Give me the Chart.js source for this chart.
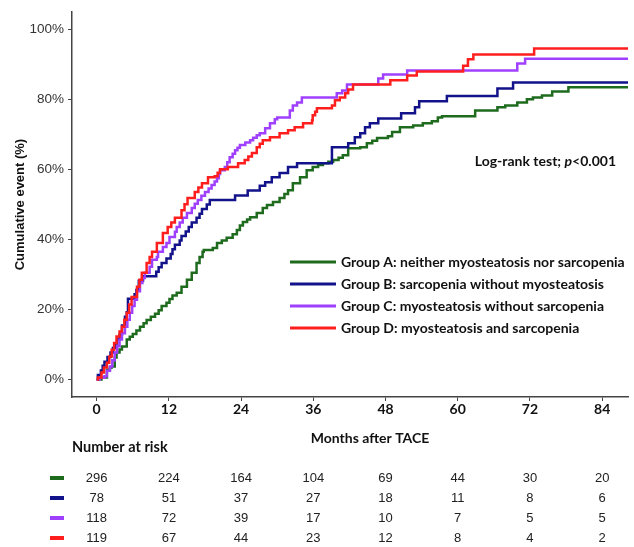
<!DOCTYPE html>
<html>
<head>
<meta charset="utf-8">
<script src="https://cdn.jsdelivr.net/npm/chart.js@4.4.0/dist/chart.umd.min.js"></script>
<style>
  html, body { margin: 0; padding: 0; background: #fff; }
  canvas { display: block; }
</style>
</head>
<body>
<canvas id="km" width="634" height="547"></canvas>
<script>
// [months, cumulative event %]
const GROUP_A = [[0,0],[0.8,0.6],[1.7,2.8],[2.2,3.4],[2.5,3.7],[3.0,6.3],[3.3,7.7],[3.8,8.6],[4.2,9.4],[5.0,11.4],
  [5.5,12.2],[6.0,13.0],[6.6,14.0],[7.2,15.1],[7.8,16.1],[8.3,17.0],[9.0,17.9],[9.7,18.8],[10.3,19.8],[10.8,21.0],
  [11.6,21.9],[12.1,23.0],[12.6,24.0],[13.3,24.8],[14.1,26.5],[15.0,28.5],[15.8,30.5],[16.6,33.3],[17.1,35.0],[17.6,36.5],
  [17.8,37.0],[19.3,37.6],[20.0,39.0],[20.8,39.7],[21.6,40.5],[22.6,41.5],[23.3,42.7],[23.8,44.0],[24.3,45.0],[25.0,45.7],
  [25.5,46.4],[26.6,47.6],[27.6,49.0],[28.3,49.9],[29.3,50.7],[30.4,51.9],[31.2,53.0],[31.8,54.1],[32.6,56.1],[33.8,57.8],
  [34.9,59.8],[35.9,60.7],[36.8,61.3],[37.6,61.8],[38.5,62.2],[39.3,62.7],[40.2,63.4],[40.9,64.1],[41.8,66.1],[43.8,66.4],
  [44.9,67.5],[45.8,68.2],[46.6,69.0],[48.4,69.5],[49.1,70.7],[50.4,72.1],[52.6,72.6],[54.2,73.2],[55.7,73.8],[56.7,74.9],
  [57.4,75.2],[62.9,76.9],[66.6,77.8],[67.9,78.3],[69.9,79.2],[71.5,80.1],[72.5,80.6],[74.0,81.2],[75.7,82.3],[78.4,83.5],
  [88.3,83.5]];
const GROUP_B = [[0,0],[0.2,1.3],[0.7,2.6],[1.0,3.9],[1.3,5.1],[1.8,6.4],[2.3,7.7],[2.7,9.0],[3.0,10.3],[3.4,11.5],
  [3.8,12.8],[4.2,15.4],[4.7,17.9],[5.0,19.2],[5.2,23.1],[6.3,24.4],[6.6,25.6],[7.0,28.2],[7.7,29.5],[9.9,30.8],
  [10.3,32.1],[10.8,33.3],[11.6,34.6],[12.3,35.9],[12.6,37.2],[13.0,38.5],[13.8,39.7],[14.1,41.0],[14.8,42.3],[15.3,43.6],
  [15.8,44.9],[16.6,46.2],[17.1,47.4],[17.5,48.7],[18.3,50.0],[18.8,51.3],[23.0,52.6],[25.1,54.0],[27.1,55.4],[28.0,56.4],
  [29.1,57.8],[30.4,59.0],[31.8,60.7],[33.3,61.8],[39.1,66.4],[41.8,67.5],[42.9,69.2],[43.8,70.4],[44.6,72.1],[45.4,73.2],
  [46.8,74.6],[50.6,76.1],[52.9,77.8],[53.6,79.5],[58.2,81.0],[66.6,83.2],[69.2,84.9],[88.3,84.9]];
const GROUP_C = [[0,0],[0.5,0.5],[1.3,0.9],[1.7,2.5],[2.2,3.7],[2.6,5.5],[3.0,7.7],[3.4,9.5],[3.8,11.4],[4.2,13.2],
  [4.7,15.1],[5.1,17.1],[5.5,19.1],[5.9,21.0],[6.3,22.8],[6.7,25.2],[7.2,27.6],[7.6,29.0],[8.0,30.5],[8.8,32.2],
  [9.2,34.2],[10.0,35.0],[10.2,36.5],[11.0,37.9],[11.6,39.0],[12.1,40.7],[13.0,42.2],[13.3,43.6],[13.8,44.9],[14.3,46.2],
  [15.0,47.6],[15.8,49.0],[16.3,50.2],[16.8,51.3],[17.4,52.5],[18.0,53.6],[18.6,54.6],[19.1,55.6],[19.6,56.6],[20.0,57.5],
  [20.3,58.7],[20.5,59.8],[21.3,60.7],[21.7,62.1],[22.1,63.5],[22.6,64.5],[23.0,65.5],[23.4,66.2],[23.8,67.0],[24.7,67.7],
  [25.5,68.4],[26.0,69.1],[26.6,69.8],[27.1,70.4],[28.0,71.8],[28.8,73.2],[29.6,74.4],[30.0,74.9],[32.1,76.9],[32.6,78.3],
  [33.3,79.2],[34.1,80.6],[39.9,81.8],[40.8,82.6],[41.6,84.3],[46.8,86.0],[47.6,87.2],[51.6,88.3],[69.9,90.3],[71.2,91.7],
  [88.3,91.7]];
const GROUP_D = [[0,0],[0.2,0.6],[0.8,2.0],[1.2,3.4],[1.7,4.8],[2.1,6.6],[2.5,8.5],[2.9,10.4],[3.3,12.3],[3.8,13.7],
  [4.2,15.1],[4.6,17.1],[5.0,19.1],[5.4,21.4],[5.8,23.6],[6.7,26.5],[7.1,28.5],[7.5,30.5],[8.3,33.3],[8.8,35.0],
  [9.2,36.5],[10.0,39.0],[11.0,41.9],[11.8,43.6],[12.4,44.9],[13.0,46.2],[14.1,48.4],[14.6,50.1],[15.1,51.9],[16.3,53.6],
  [16.9,54.9],[17.5,56.1],[18.5,57.8],[19.6,58.1],[20.1,59.1],[20.5,60.1],[21.8,60.7],[23.5,61.8],[24.6,62.7],[25.2,63.7],
  [25.8,64.7],[26.6,66.4],[27.1,67.4],[27.6,68.4],[28.8,69.2],[30.4,70.4],[31.8,71.2],[32.9,72.1],[34.3,73.2],[35.8,74.1],
  [35.9,75.5],[36.3,76.5],[36.6,77.5],[39.1,78.3],[39.6,79.8],[40.4,80.6],[41.3,81.8],[41.8,82.9],[42.6,84.3],[48.8,85.5],
  [51.6,86.9],[53.2,88.0],[60.9,89.7],[61.7,91.5],[62.6,92.9],[72.7,94.6],[88.3,94.6]];

const LABELS = [
  'Group A: neither myosteatosis nor sarcopenia',
  'Group B: sarcopenia without myosteatosis',
  'Group C: myosteatosis without sarcopenia',
  'Group D: myosteatosis and sarcopenia',
];
const COLORS = ['#1e6b1e', '#12128a', '#a040ff', '#ff1e1e'];

const X_TICKS = [0, 12, 24, 36, 48, 60, 72, 84];
const Y_TICKS = [0, 20, 40, 60, 80, 100];

// number at risk, one row per group, at X_TICKS
const RISK_A = [296, 224, 164, 104, 69, 44, 30, 20];
const RISK_B = [78, 51, 37, 27, 18, 11, 8, 6];
const RISK_C = [118, 72, 39, 17, 10, 7, 5, 5];
const RISK_D = [119, 67, 44, 23, 12, 8, 4, 2];

const SANS = '"Liberation Sans", Arial, sans-serif';
const HUMAN = 'Lato, "Open Sans", sans-serif';

const groups = [GROUP_A, GROUP_B, GROUP_C, GROUP_D];
const risk = [RISK_A, RISK_B, RISK_C, RISK_D];

const extras = {
  id: 'extras',
  afterDraw(chart) {
    const { ctx, chartArea: a, scales: { x } } = chart;
    ctx.save();

    // legend inside the plot
    ctx.font = `bold 14px ${HUMAN}`;
    ctx.textBaseline = 'middle';
    ctx.textAlign = 'left';
    LABELS.forEach((lab, i) => {
      const y = a.top + 250 + i * 22;
      ctx.strokeStyle = COLORS[i];
      ctx.lineWidth = 3;
      ctx.beginPath();
      ctx.moveTo(a.left + 218, y);
      ctx.lineTo(a.left + 264, y);
      ctx.stroke();
      ctx.fillStyle = '#111';
      ctx.fillText(lab, a.left + 269, y);
    });

    // log-rank note
    const parts = [['Log-rank test; ', 'bold'], ['p', 'italic bold'], ['<0.001', 'bold']];
    let w = 0;
    parts.forEach(([t, s]) => { ctx.font = `${s} 14px ${HUMAN}`; w += ctx.measureText(t).width; });
    let px = a.right - 12 - w;
    parts.forEach(([t, s]) => {
      ctx.font = `${s} 14px ${HUMAN}`;
      ctx.fillText(t, px, a.top + 149);
      px += ctx.measureText(t).width;
    });

    // x axis title
    ctx.font = `bold 14px ${HUMAN}`;
    ctx.textAlign = 'center';
    ctx.fillText('Months after TACE', (a.left + a.right) / 2 + 20, a.bottom + 41);

    // number at risk table
    ctx.textAlign = 'left';
    ctx.font = `bold 14.5px ${HUMAN}`;
    ctx.fillText('Number at risk', a.left, a.bottom + 50);
    ctx.font = `13px ${SANS}`;
    risk.forEach((row, i) => {
      const y = a.bottom + 81 + i * 20;
      ctx.fillStyle = COLORS[i];
      ctx.fillRect(50, y - 2, 14, 4);
      ctx.fillStyle = '#222';
      ctx.textAlign = 'center';
      row.forEach((n, j) => ctx.fillText(String(n), x.getPixelForValue(X_TICKS[j]), y));
    });
    ctx.restore();
  }
};

new Chart(document.getElementById('km'), {
  type: 'line',
  data: {
    datasets: groups.map((g, i) => ({
      label: LABELS[i],
      data: g.map(([t, v]) => ({ x: t, y: v })),
      borderColor: COLORS[i],
      borderWidth: 2.5,
      stepped: 'before',
      pointRadius: 0,
      fill: false,
      order: 3 - i,
    })),
  },
  options: {
    responsive: false,
    animation: false,
    devicePixelRatio: 1,
    layout: { padding: { top: 12, right: 6, bottom: 100, left: 0 } },
    plugins: {
      legend: { display: false },
      tooltip: { enabled: false },
    },
    scales: {
      x: {
        type: 'linear',
        min: -4.1,
        max: 88.3,
        afterFit: s => { s.height = 50; },
        afterBuildTicks: s => { s.ticks = X_TICKS.map(v => ({ value: v })); },
        grid: { drawOnChartArea: false, drawTicks: true, tickLength: 4, color: '#444' },
        border: { display: true, color: '#444', width: 1.5 },
        ticks: {
          padding: 0,
          color: '#111',
          font: { family: HUMAN, size: 14, weight: 'bold' },
          maxRotation: 0,
        },
      },
      y: {
        min: -5,
        max: 105,
        afterFit: s => { s.width = 72; },
        afterBuildTicks: s => { s.ticks = Y_TICKS.map(v => ({ value: v })); },
        grid: { drawOnChartArea: false, drawTicks: true, tickLength: 4, color: '#444' },
        border: { display: true, color: '#444', width: 1.5 },
        ticks: {
          padding: 4,
          color: '#333',
          font: { family: SANS, size: 13.5 },
          callback: v => v + '%',
        },
        title: {
          display: true,
          text: 'Cumulative event (%)',
          color: '#111',
          font: { family: SANS, size: 13, weight: 'bold' },
          padding: { top: 13, bottom: 0 },
        },
      },
    },
  },
  plugins: [extras],
});
</script>
</body>
</html>
